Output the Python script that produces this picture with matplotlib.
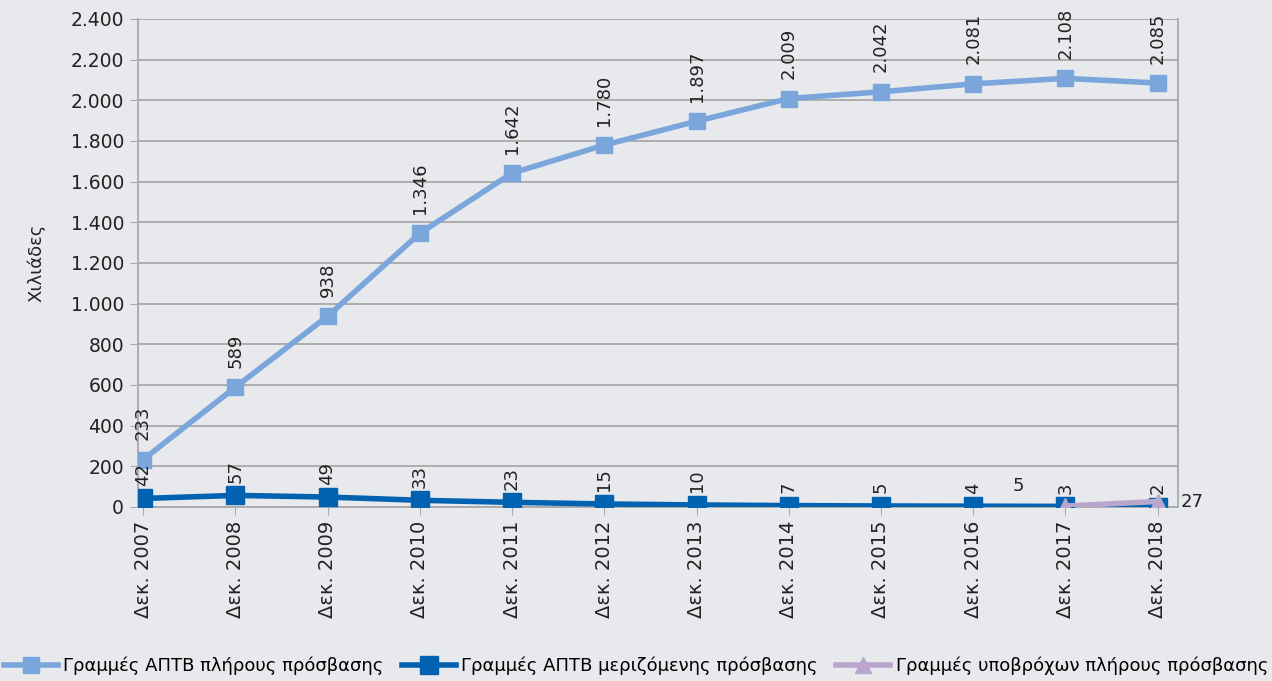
import numpy as np
import matplotlib.pyplot as plt

# Δεδομένα
etos = ["Δεκ. 2007", "Δεκ. 2008", "Δεκ. 2009", "Δεκ. 2010", "Δεκ. 2011", "Δεκ. 2012",
        "Δεκ. 2013", "Δεκ. 2014", "Δεκ. 2015", "Δεκ. 2016", "Δεκ. 2017", "Δεκ. 2018"]
pliris = [233, 589, 938, 1346, 1642, 1780, 1897, 2009, 2042, 2081, 2108, 2085]
merizomeni = [42, 57, 49, 33, 23, 15, 10, 7, 5, 4, 3, 2]
ypovroxon = [5, 27]  # Δεκ. 2017, Δεκ. 2018

label_pliris = "Γραμμές ΑΠΤΒ πλήρους πρόσβασης"
label_meriz = "Γραμμές ΑΠΤΒ μεριζόμενης πρόσβασης"
label_ypovr = "Γραμμές υποβρόχων πλήρους πρόσβασης"

bg = "#e8e9ec"
c1, c2, c3 = "#7aa6dc", "#0062b1", "#b9a6cc"
grid_c = "#a8a8a8"
txt_c = "#222222"

plt.rcParams['font.family'] = ['DejaVu Sans']

fig = plt.figure(figsize=(12.72, 6.81), dpi=100, facecolor=bg)
ax = fig.add_axes([138 / 1272, 1 - 507 / 681, (1178 - 138) / 1272, (507 - 19) / 681])
ax.set_facecolor(bg)

x = np.arange(len(etos))
ax.plot(x, pliris, color=c1, lw=4, marker="s", ms=11, label=label_pliris, zorder=3)
ax.plot(x, merizomeni, color=c2, lw=4, marker="s", ms=13, label=label_meriz, zorder=4)
x3 = x[-2:]
ax.plot(x3, ypovroxon, color=c3, lw=4, marker="^", ms=12, label=label_ypovr, zorder=5)

def fmt(v):
    return f"{v:,}".replace(",", ".")

for xi, v in zip(x, pliris):
    ax.annotate(fmt(v), (xi, v), xytext=(0, 14), textcoords="offset points",
                rotation=90, ha="center", va="bottom", fontsize=13, color=txt_c)
for xi, v in zip(x, merizomeni):
    ax.annotate(fmt(v), (xi, v), xytext=(0, 9), textcoords="offset points",
                rotation=90, ha="center", va="bottom", fontsize=13, color=txt_c)
ax.annotate(fmt(ypovroxon[0]), (x3[0], ypovroxon[0]), xytext=(-34, 8), textcoords="offset points",
            ha="center", va="bottom", fontsize=13, color=txt_c)
ax.annotate(fmt(ypovroxon[1]), (x3[1], ypovroxon[1]), xytext=(25, 0), textcoords="offset points",
            ha="center", va="center", fontsize=13, color=txt_c)

ax.set_ylim(0, 2400)
ax.set_xlim(-0.055, 11.22)
ax.set_yticks(np.arange(0, 2401, 200))
ax.set_yticklabels([fmt(v) for v in range(0, 2401, 200)], fontsize=13.5, color=txt_c)
ax.set_xticks(x)
ax.set_xticklabels(etos, rotation=90, fontsize=14, color=txt_c)
ax.grid(axis="y", color=grid_c, lw=1.3)
ax.set_axisbelow(True)
for s in ["left", "right", "bottom"]:
    ax.spines[s].set_color(grid_c)
    ax.spines[s].set_linewidth(1.3)
ax.spines["top"].set_visible(False)
ax.tick_params(axis="y", length=6, color=grid_c, pad=4)
ax.tick_params(axis="x", length=6, color=grid_c, pad=4)
ax.set_ylabel("Χιλιάδες", fontsize=13, color=txt_c, labelpad=18)

fig.legend(loc="lower center", ncol=3, bbox_to_anchor=(0.5, -0.015), frameon=False,
           fontsize=13, handlelength=3, columnspacing=1.0, handletextpad=0.3)

fig.savefig("out.png", dpi=100, facecolor=bg)
